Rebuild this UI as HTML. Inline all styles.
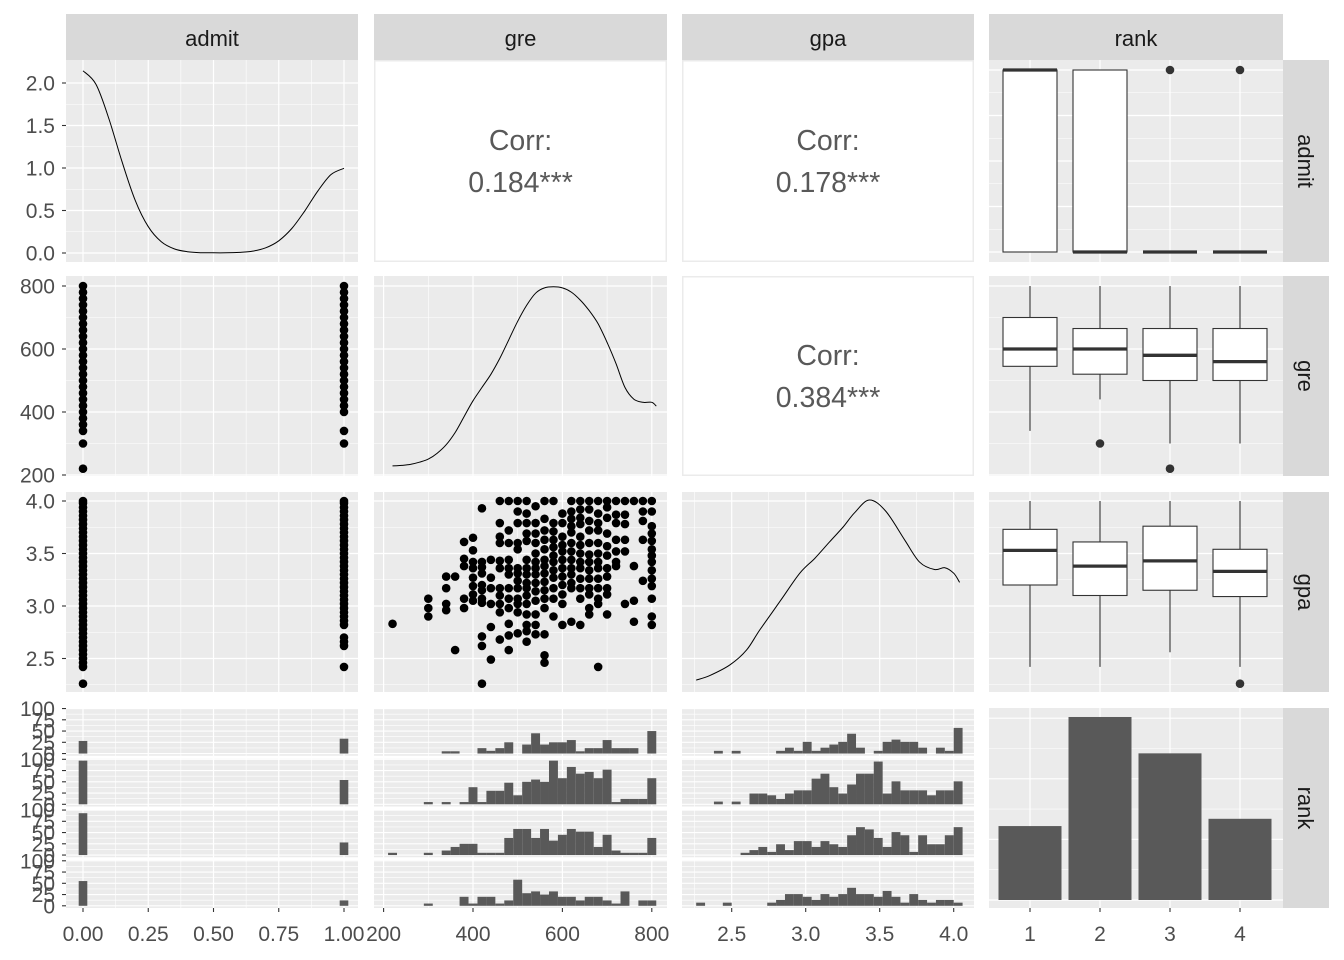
<!DOCTYPE html>
<html><head><meta charset="utf-8"><style>
html,body{margin:0;padding:0;background:#fff;}
svg{display:block;font-family:"Liberation Sans",Arial,sans-serif;}
</style></head><body>
<svg id="chart" width="1344" height="960" viewBox="0 0 1344 960" xmlns="http://www.w3.org/2000/svg"></svg>
<script>
// ---------- data ----------
const admitDensX=[0,0.05,0.1,0.15,0.2,0.25,0.3,0.35,0.4,0.45,0.5,0.55,0.6,0.65,0.7,0.75,0.8,0.85,0.9,0.95,1];
const admitDensY=[2.144,1.983,1.572,1.068,0.62,0.309,0.132,0.048,0.015,0.004,0.002,0.002,0.007,0.022,0.061,0.144,0.288,0.497,0.731,0.922,0.997];
const greDensX=[220,240,260,280,300,320,340,360,380,400,420,440,460,480,500,520,540,560,580,600,620,640,660,680,700,720,740,760,780,800,810];
const greDensY=[0.02,0.03,0.05,0.09,0.15,0.26,0.42,0.65,0.95,1.25,1.5,1.75,2.05,2.4,2.75,3.05,3.28,3.38,3.4,3.38,3.3,3.15,2.95,2.7,2.35,1.95,1.5,1.28,1.22,1.22,1.15];
const gpaDensX=[2.26,2.35,2.49,2.6,2.69,2.83,2.96,3.06,3.16,3.25,3.33,3.43,3.54,3.67,3.77,3.87,3.94,4.0,4.04];
const gpaDensY=[0.016,0.04,0.1,0.18,0.29,0.45,0.6,0.68,0.77,0.85,0.93,1.0,0.94,0.78,0.66,0.62,0.63,0.6,0.55];
const corrLabels=["0.184***","0.178***","0.384***"];
const scatGre=[220,300,340,360,380,400,420,440,460,480,500,520,540,560,580,600,620,640,660,680,700,720,740,760,780,800];
const scatGpa=[[2.83],[3.07,2.98,2.9],[3.28,3.17,3.02,2.96],[3.28,2.58],[3.61,3.45,3.38,3.07,2.98],[3.65,3.53,3.42,3.36,3.27,3.19,3.11,3.05],
[3.93,3.42,3.37,3.31,3.2,3.15,3.07,3.03,2.71,2.62,2.26],[3.44,3.27,3.17,3.02,2.8,2.49],[4.0,3.79,3.66,3.6,3.43,3.36,3.17,3.1,3.02,2.94,2.68],
[4.0,3.72,3.6,3.44,3.36,3.3,3.17,3.07,2.98,2.83,2.72,2.58],[4.0,3.9,3.79,3.6,3.54,3.36,3.31,3.24,3.17,3.07,3.02,2.94,2.74],
[4.0,3.88,3.79,3.69,3.62,3.44,3.36,3.3,3.22,3.17,3.1,3.02,2.92,2.82,2.76,2.66],[3.95,3.79,3.69,3.6,3.5,3.42,3.36,3.3,3.22,3.14,3.05,2.92,2.82,2.73],
[4.0,3.83,3.72,3.63,3.54,3.44,3.38,3.31,3.23,3.15,3.07,2.98,2.73,2.53,2.46],[4.0,3.79,3.71,3.63,3.56,3.48,3.42,3.34,3.27,3.17,3.07,2.9],
[3.88,3.79,3.66,3.58,3.52,3.44,3.36,3.28,3.2,3.11,3.02,2.82],[4.0,3.9,3.83,3.76,3.7,3.6,3.52,3.44,3.36,3.3,3.22,3.17,2.85],
[4.0,3.92,3.84,3.78,3.66,3.58,3.5,3.42,3.36,3.26,3.17,3.07,2.82],[4.0,3.92,3.81,3.72,3.6,3.49,3.42,3.34,3.26,3.17,3.11,2.98,2.92],
[4.0,3.88,3.79,3.72,3.6,3.5,3.42,3.36,3.26,3.17,3.07,3.02,2.42],[4.0,3.94,3.84,3.69,3.57,3.48,3.36,3.28,3.17,3.11,2.92],
[4.0,3.87,3.79,3.63,3.52,3.42,3.38],[4.0,3.87,3.78,3.63,3.52,3.02],[4.0,3.38,3.05,2.85],[4.0,3.9,3.81,3.63,3.24],
[4.0,3.9,3.76,3.69,3.62,3.54,3.48,3.42,3.34,3.26,3.19,3.07,2.9,2.82]];
const admit0Gre=[220,300,340,360,380,400,420,440,460,480,500,520,540,560,580,600,620,640,660,680,700,720,740,760,780,800];
const admit1Gre=[300,340,400,420,440,460,480,500,520,540,560,580,600,620,640,660,680,700,720,740,760,780,800];
const admit0Gpa=[2.26,2.42,2.46,2.5,2.54,2.58,2.62,2.66,2.7,2.74,2.78,2.82,2.86,2.9,2.94,2.98,3.02,3.06,3.1,3.14,3.18,3.22,3.26,3.3,3.34,3.38,3.42,3.46,3.5,3.54,3.58,3.62,3.66,3.7,3.74,3.78,3.82,3.86,3.9,3.94,3.98,4.0];
const admit1Gpa=[2.42,2.62,2.66,2.7,2.82,2.86,2.9,2.94,2.98,3.02,3.06,3.1,3.14,3.18,3.22,3.26,3.3,3.34,3.38,3.42,3.46,3.5,3.54,3.58,3.62,3.66,3.7,3.74,3.78,3.82,3.86,3.9,3.94,3.98,4.0];
const ranks=[1,2,3,4];
const rankCounts=[61,151,121,67];
const admitHist0=[28,97,93,55];
const admitHist1=[33,54,28,12];
const greBins=[220,240,260,280,300,320,340,360,380,400,420,440,460,480,500,520,540,560,580,600,620,640,660,680,700,720,740,760,780,800];
const greHist=[
[0,0,0,0,0,0,5,5,0,0,12,6,12,25,0,20,45,20,25,25,30,5,12,12,30,12,12,12,0,50],
[0,0,0,0,5,0,5,0,5,38,5,30,30,48,20,50,55,50,97,58,83,68,72,58,77,5,12,12,12,58],
[5,0,0,0,5,0,10,18,25,25,5,5,5,38,58,58,38,58,32,45,58,52,52,18,45,10,5,5,5,38],
[0,0,0,0,5,0,0,0,20,5,20,20,5,12,58,28,32,25,32,20,20,12,20,20,12,5,32,0,12,12]];
const gpaBins=[2.29,2.35,2.41,2.47,2.53,2.59,2.65,2.71,2.77,2.83,2.89,2.95,3.01,3.07,3.13,3.19,3.25,3.31,3.37,3.43,3.49,3.55,3.61,3.67,3.73,3.79,3.85,3.91,3.97,4.03];
const gpaHist=[
[0,0,6,0,6,0,0,0,0,6,13,6,26,6,13,20,26,44,13,0,6,26,31,26,26,13,0,13,6,57],
[0,0,6,0,6,0,24,24,20,12,24,31,31,57,68,38,24,44,68,68,95,24,51,31,31,31,20,31,31,51],
[0,0,0,0,0,5,11,18,7,24,11,31,31,18,31,24,18,44,62,57,38,18,51,44,7,44,24,24,44,62],
[7,0,0,7,0,0,0,0,7,13,26,26,20,13,26,20,26,40,26,26,20,33,20,7,26,13,7,13,13,7]];
const boxLo=[[0,0,0,0],[340,440,300,300],[2.42,2.42,2.56,2.42]];
const boxQ1=[[0,0,0,0],[545,520,500,500],[3.2,3.1,3.15,3.09]];
const boxMed=[[1,0,0,0],[600,600,580,560],[3.53,3.38,3.43,3.33]];
const boxQ3=[[1,1,0,0],[700,665,665,665],[3.73,3.61,3.76,3.54]];
const boxHi=[[1,1,0,0],[800,800,800,800],[4.0,4.0,4.0,4.0]];
const boxOut=[[[],[],[1],[1]],[[],[300],[220],[]],[[],[],[],[2.26]]];
const varNames=["admit","gre","gpa","rank"];

// ---------- layout & scales ----------
const cols=[[66,358],[374,667],[682,974],[989,1283]];
const rows=[[60,262],[276,476],[492,692],[708,908]];
const xAdmit=v=>83+261*v, xGre=v=>383.6+0.447*(v-200), xGpa=v=>731.7+148*(v-2.5), xRank=v=>1030+70*(v-1);
const yDens1=v=>253-85*v, yAdmit=v=>252-182*v, yGre=v=>286+0.315*(800-v), yGpa=v=>501+105*(4-v);
const yGreDens=v=>467-53*v, yGpaDens=v=>683-183*v, yRankCount=v=>900-1.212*v;
const fH=47.75, fGap=3;
const facetTop=f=>708+f*(fH+fGap), facetBase=f=>facetTop(f)+fH-2.2;
const yFacet=(f,c)=>facetBase(f)-0.45*c;

const svg=document.getElementById('chart');
const NS='http://www.w3.org/2000/svg';
function mk(tag,attrs,parent){const e=document.createElementNS(NS,tag);for(const k in attrs)e.setAttribute(k,attrs[k]);(parent||svg).appendChild(e);return e;}
function grp(name){const g=mk('g',{});return g;}
function txt(g,x,y,s,anchor,size,fill,name){const t=mk('text',{x:x,y:y,'text-anchor':anchor,'font-size':size,fill:fill},g);t.textContent=s;


return t;}
function smooth(pts){let d='M'+pts[0][0].toFixed(1)+','+pts[0][1].toFixed(1);
for(let i=0;i<pts.length-1;i++){const p0=pts[Math.max(i-1,0)],p1=pts[i],p2=pts[i+1],p3=pts[Math.min(i+2,pts.length-1)];
const c1=[p1[0]+(p2[0]-p0[0])/6,p1[1]+(p2[1]-p0[1])/6],c2=[p2[0]-(p3[0]-p1[0])/6,p2[1]-(p3[1]-p1[1])/6];
d+='C'+c1.map(v=>v.toFixed(1)).join(',')+' '+c2.map(v=>v.toFixed(1)).join(',')+' '+p2.map(v=>v.toFixed(1)).join(',');}
return d;}

const xScales=[xAdmit,xGre,xGpa,xRank];
const xMajor=[[0,.25,.5,.75,1],[200,400,600,800],[2.5,3,3.5,4],[1,2,3,4]];
const xMinor=[[.125,.375,.625,.875],[300,500,700],[2.25,2.75,3.25,3.75],[]];
const xLabels=[["0.00","0.25","0.50","0.75","1.00"],["200","400","600","800"],["2.5","3.0","3.5","4.0"],["1","2","3","4"]];

function panelBg(g,c,r,name){const b=mk('rect',{x:cols[c][0],y:rows[r][0],width:cols[c][1]-cols[c][0],height:rows[r][1]-rows[r][0],fill:'#EBEBEB'},g);

}
function hline(g,c,y,w,y0,y1){if(y<y0-0.5||y>y1+0.5)return;const l=mk('line',{x1:cols[c][0],x2:cols[c][1],y1:y,y2:y,stroke:'#fff','stroke-width':w},g);

}
function vline(g,c,x,w,y0,y1){const l=mk('line',{x1:x,x2:x,y1:y0,y2:y1,stroke:'#fff','stroke-width':w},g);

}
function xgrid(g,c,y0,y1){xMinor[c].forEach(v=>vline(g,c,xScales[c](v),0.6,y0,y1));xMajor[c].forEach(v=>vline(g,c,xScales[c](v),1.2,y0,y1));}
function ygrid(g,c,ys,yms,y0,y1){yms.forEach(y=>hline(g,c,y,0.6,y0,y1));ys.forEach(y=>hline(g,c,y,1.2,y0,y1));}

const rowGrid=[
 null,
 {maj:[200,400,600,800].map(yGre),min:[300,500,700].map(yGre)},
 {maj:[2.5,3,3.5,4].map(yGpa),min:[2.25,2.75,3.25,3.75].map(yGpa)}
];

// strips
const strips=grp('strips');
varNames.forEach((n,c)=>{const r=mk('rect',{x:cols[c][0],y:14,width:cols[c][1]-cols[c][0],height:46,fill:'#D9D9D9'},strips);


txt(strips,(cols[c][0]+cols[c][1])/2,46,n,'middle',22,'#1A1A1A','strip-label-'+n);});
varNames.forEach((n,r)=>{const s=mk('rect',{x:1283,y:rows[r][0],width:46,height:rows[r][1]-rows[r][0],fill:'#D9D9D9'},strips);


const cy=(rows[r][0]+rows[r][1])/2;const t=mk('text',{x:0,y:0,'text-anchor':'middle','font-size':22,fill:'#1A1A1A',transform:`translate(1298,${cy}) rotate(90)`},strips);t.textContent=n;

});

// ---------- panels ----------
for(let r=0;r<4;r++)for(let c=0;c<4;c++){
 const g=grp(`panel-${varNames[r]}-${varNames[c]}`);
 const y0=rows[r][0],y1=rows[r][1];
 const isCorr=(r===0&&(c===1||c===2))||(r===1&&c===2);
 if(isCorr){
  const b=mk('rect',{x:cols[c][0]+0.75,y:y0+0.75,width:cols[c][1]-cols[c][0]-1.5,height:y1-y0-1.5,fill:'#fff',stroke:'#EBEBEB','stroke-width':1.5},g);
  
  
  const idx=(r===0?c-1:2);const cx=(cols[c][0]+cols[c][1])/2,cy=(y0+y1)/2;
  txt(g,cx,cy-11,'Corr:','middle',28.5,'#595959','corr-title');
  txt(g,cx,cy+31,corrLabels[idx],'middle',28.5,'#595959','corr-value');
  continue;
 }
 panelBg(g,c,r,'panel-background');
 if(r===3&&c<3){
  for(let f=0;f<4;f++){const ft=facetTop(f);
   const yb=[0,25,50,75,100].map(v=>yFacet(f,v)),ym=[12.5,37.5,62.5,87.5].map(v=>yFacet(f,v));
   ygrid(g,c,yb,ym,ft,ft+fH);}
  xgrid(g,c,y0,y1);
  for(let f=0;f<3;f++){const gp=mk('rect',{x:cols[c][0],y:facetTop(f)+fH,width:cols[c][1]-cols[c][0],height:fGap,fill:'#fff'},g);
   
   }
 } else if(r===3&&c===3){
  ygrid(g,c,[0,50,100,150].map(yRankCount),[25,75,125].map(yRankCount),y0,y1);xgrid(g,c,y0,y1);
 } else if(r===0){
  if(c===0)ygrid(g,c,[0,.5,1,1.5,2].map(yDens1),[.25,.75,1.25,1.75].map(yDens1),y0,y1);
  else ygrid(g,c,[0,.25,.5,.75,1].map(yAdmit),[.125,.375,.625,.875].map(yAdmit),y0,y1);
  xgrid(g,c,y0,y1);
 } else {ygrid(g,c,rowGrid[r].maj,rowGrid[r].min,y0,y1);xgrid(g,c,y0,y1);}
}

// densities
(function(){const g=grp('admit-density');const d=smooth(admitDensX.map((x,i)=>[xAdmit(x),yDens1(admitDensY[i])]));
const p=mk('path',{d:d,fill:'none',stroke:'#000','stroke-width':1},g);

})();
(function(){const g=grp('gre-density');const d=smooth(greDensX.map((x,i)=>[xGre(x),yGreDens(greDensY[i])]));
const p=mk('path',{d:d,fill:'none',stroke:'#000','stroke-width':1},g);

})();
(function(){const g=grp('gpa-density');const d=smooth(gpaDensX.map((x,i)=>[xGpa(x),yGpaDens(gpaDensY[i])]));
const p=mk('path',{d:d,fill:'none',stroke:'#000','stroke-width':1},g);

})();

// scatter points
function pt(g,x,y){const c=mk('circle',{cx:x,cy:y,r:4.3,fill:'#000'},g);

}
(function(){const g=grp('scatter-admit-gre');admit0Gre.forEach(v=>pt(g,xAdmit(0),yGre(v)));admit1Gre.forEach(v=>pt(g,xAdmit(1),yGre(v)));})();
(function(){const g=grp('scatter-admit-gpa');admit0Gpa.forEach(v=>pt(g,xAdmit(0),yGpa(v)));admit1Gpa.forEach(v=>pt(g,xAdmit(1),yGpa(v)));})();
(function(){const g=grp('scatter-gre-gpa');scatGre.forEach((gr,i)=>scatGpa[i].forEach(v=>pt(g,xGre(gr),yGpa(v))));})();

// boxplots
function boxplot(g,vi,ys){for(let k=0;k<4;k++){const x=xRank(ranks[k]),hw=27;
 const w=mk('line',{x1:x,x2:x,y1:ys(boxLo[vi][k]),y2:ys(boxHi[vi][k]),stroke:'#333','stroke-width':1.1},g);
 
 
 const top=ys(boxQ3[vi][k]),bot=ys(boxQ1[vi][k]);
 const b=mk('rect',{x:x-hw,y:top,width:2*hw,height:Math.max(bot-top,0),fill:'#fff',stroke:'#333','stroke-width':1.1},g);
 
 
 const m=mk('line',{x1:x-hw,x2:x+hw,y1:ys(boxMed[vi][k]),y2:ys(boxMed[vi][k]),stroke:'#333','stroke-width':3.3},g);
 
 
 boxOut[vi][k].forEach(o=>{const c=mk('circle',{cx:x,cy:ys(o),r:4.3,fill:'#333'},g);
  
  });}}
boxplot(grp('boxplot-admit-rank'),0,yAdmit);
boxplot(grp('boxplot-gre-rank'),1,yGre);
boxplot(grp('boxplot-gpa-rank'),2,yGpa);

// rank bar chart
(function(){const g=grp('rank-bars');ranks.forEach((r,i)=>{const x=xRank(r);const b=mk('rect',{x:x-31.5,y:yRankCount(rankCounts[i]),width:63,height:yRankCount(0)-yRankCount(rankCounts[i]),fill:'#595959'},g);

});})();

// faceted histograms
function hbar(g,x,w,f,c){if(c<=0)return;const b=mk('rect',{x:x-w/2,y:yFacet(f,c),width:w,height:yFacet(f,0)-yFacet(f,c),fill:'#595959'},g);

}
(function(){const g=grp('hist-admit-by-rank');for(let f=0;f<4;f++){hbar(g,xAdmit(0),8.6,f,admitHist0[f]);hbar(g,xAdmit(1),8.6,f,admitHist1[f]);}})();
(function(){const g=grp('hist-gre-by-rank');for(let f=0;f<4;f++)greBins.forEach((b,i)=>hbar(g,xGre(b),8.94,f,greHist[f][i]));})();
(function(){const g=grp('hist-gpa-by-rank');for(let f=0;f<4;f++)gpaBins.forEach((b,i)=>hbar(g,xGpa(b),8.88,f,gpaHist[f][i]));})();

// ---------- axes ----------
const axL=grp('y-axis-left');
function ytick(y,label){const l=mk('line',{x1:62,x2:66,y1:y,y2:y,stroke:'#333','stroke-width':1.1},axL);


txt(axL,55,y+7.5,label,'end',21,'#4D4D4D','y-tick-label');}
[0,.5,1,1.5,2].forEach((v,i)=>ytick(yDens1(v),["0.0","0.5","1.0","1.5","2.0"][i]));
[200,400,600,800].forEach(v=>ytick(yGre(v),String(v)));
[2.5,3,3.5,4].forEach((v,i)=>ytick(yGpa(v),["2.5","3.0","3.5","4.0"][i]));
for(let f=0;f<4;f++)[0,25,50,75,100].forEach(v=>ytick(yFacet(f,v),String(v)));
const axB=grp('x-axis-bottom');
for(let c=0;c<4;c++)xMajor[c].forEach((v,i)=>{const x=xScales[c](v);const l=mk('line',{x1:x,x2:x,y1:908,y2:912,stroke:'#333','stroke-width':1.1},axB);


txt(axB,x,941,xLabels[c][i],'middle',21,'#4D4D4D','x-tick-label');});
</script>
</body></html>
